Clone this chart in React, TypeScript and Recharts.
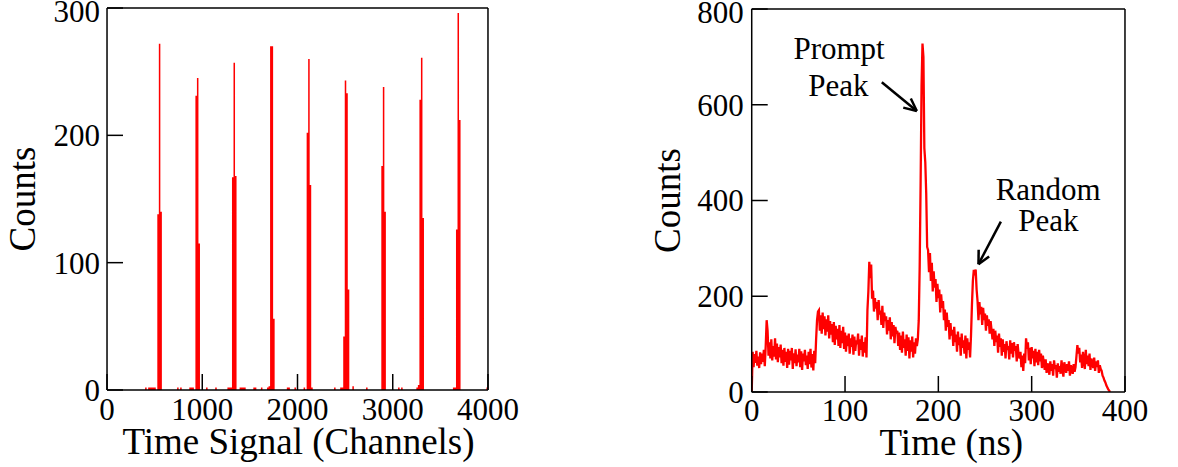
import React from 'react';
import { ComposedChart, Area, Line, XAxis, YAxis, Label, ReferenceLine, ReferenceDot } from 'recharts';

const FONT = '"Liberation Serif", "Times New Roman", Times, serif';
const RED = '#ff0000';
const INK = '#000000';

// ---------- Left panel: Time Signal (Channels) histogram ----------
const channelBinWidth = 16;
const channelMax = 4000;
const channelBinStart = [
  400, 432, 448, 464, 480, 496, 528, 544, 560,
  736, 768, 864, 880, 896, 928, 944, 960,
  1040, 1136, 1264, 1280, 1296, 1312, 1328, 1344,
  1392, 1408, 1424, 1440, 1536, 1552, 1616, 1680, 1696, 1712, 1728, 1744,
  1888, 1904, 1968, 2064, 2096, 2112, 2128, 2144,
  2384, 2448, 2464, 2480, 2496, 2512, 2528, 2576, 2720,
  2880, 2896, 2912, 3056, 3088, 3248, 3264, 3280, 3296, 3312,
  3632, 3648, 3664, 3680, 3696, 3984,
];
const channelBinCount = [
  2, 2, 2, 2, 2, 2, 138, 272, 140,
  2, 2, 2, 2, 2, 231, 245, 115,
  2, 2, 2, 2, 2, 167, 257, 168,
  2, 2, 2, 2, 2, 2, 2, 2, 3, 270, 270, 56,
  2, 2, 2, 2, 202, 260, 161, 2,
  2, 2, 2, 42, 243, 233, 79, 3, 2,
  176, 238, 140, 2, 2, 2, 4, 228, 261, 135,
  2, 2, 126, 296, 212, 2,
];
const leftXMajor = [0, 1000, 2000, 3000, 4000];
const leftXMinor = [200, 400, 600, 800, 1200, 1400, 1600, 1800, 2200, 2400, 2600, 2800, 3200, 3400, 3600, 3800];
const leftYMajor = [0, 100, 200, 300];
const leftYMinor = [20, 40, 60, 80, 120, 140, 160, 180, 220, 240, 260, 280];

// ---------- Right panel: Time (ns) spectrum, one value per 1 ns bin starting at 0 ns ----------
const spectrumCounts = [
  0, 84, 52, 79, 61, 86, 55, 74, 50, 83,
  58, 80, 63, 88, 54, 96, 150, 128, 76, 104,
  70, 110, 66, 96, 74, 112, 68, 101, 62, 94,
  72, 99, 60, 88, 55, 92, 63, 84, 50, 90,
  57, 86, 66, 92, 48, 81, 60, 89, 54, 78,
  62, 90, 52, 85, 46, 80, 64, 88, 56, 76,
  48, 84, 58, 90, 51, 79, 45, 86, 60, 110,
  150, 168, 171, 128, 160, 122, 166, 131, 158, 118,
  152, 126, 160, 112, 148, 120, 142, 104, 146, 98,
  138, 110, 132, 96, 140, 92, 128, 102, 136, 90,
  124, 84, 118, 96, 122, 80, 112, 94, 120, 78,
  116, 86, 108, 100, 122, 76, 110, 88, 118, 74,
  104, 82, 114, 72, 171, 210, 272, 238, 266, 195,
  212, 168, 196, 174, 188, 150, 192, 162, 170, 140,
  180, 134, 166, 148, 158, 120, 150, 128, 156, 110,
  146, 116, 140, 102, 136, 122, 128, 96, 124, 88,
  118, 82, 126, 92, 110, 76, 120, 86, 114, 70,
  108, 84, 116, 72, 104, 80, 112, 96, 110, 150,
  262, 437, 640, 728, 700, 509, 480, 415, 303, 296,
  250, 290, 232, 270, 210, 252, 218, 236, 188, 226,
  196, 214, 166, 204, 176, 190, 150, 172, 128, 166,
  136, 150, 110, 144, 118, 130, 96, 136, 104, 120,
  84, 126, 98, 114, 76, 122, 92, 108, 80, 118,
  70, 112, 88, 104, 72, 118, 182, 232, 255, 244,
  256, 214, 190, 150, 188, 162, 178, 140, 176, 150,
  164, 128, 160, 138, 152, 122, 148, 130, 110, 132,
  96, 128, 104, 118, 82, 122, 94, 112, 76, 110,
  84, 100, 70, 106, 88, 96, 68, 108, 80, 102,
  72, 104, 86, 96, 64, 100, 78, 70, 84, 52,
  76, 44, 80, 60, 112, 90, 104, 66, 92, 58,
  94, 70, 86, 54, 90, 62, 84, 56, 88, 64,
  80, 50, 76, 62, 46, 68, 40, 60, 52, 36,
  64, 44, 58, 34, 66, 48, 56, 30, 60, 42,
  54, 38, 66, 46, 32, 62, 50, 40, 58, 44,
  64, 34, 56, 48, 38, 58, 42, 52, 75, 98,
  80, 92, 62, 78, 50, 84, 66, 48, 88, 58,
  76, 54, 80, 46, 70, 60, 50, 72, 44, 64,
  52, 66, 40, 56, 48, 44, 34, 30, 24, 20,
  14, 10, 6, 3, 0,
];
const spectrumBinNs = 1;
const rightXMajor = [0, 100, 200, 300, 400];
const rightXMinor = [20, 40, 60, 80, 120, 140, 160, 180, 220, 240, 260, 280, 320, 340, 360, 380];
const rightYMajor = [0, 200, 400, 600, 800];
const rightYMinor = [50, 100, 150, 250, 300, 350, 450, 500, 550, 650, 700, 750];

// Annotations (data coordinates)
const promptArrow = { tail: { x: 139.4, y: 647 }, tip: { x: 176.9, y: 587 }, wingA: { x: 170.5, y: 613 }, wingB: { x: 162.4, y: 594 } };
const randomArrow = { tail: { x: 267, y: 356 }, tip: { x: 243, y: 267 }, wingA: { x: 254.4, y: 283 }, wingB: { x: 243.2, y: 297 } };
const annotationTexts = [
  { text: 'Prompt', x: 93.6, y: 719 },
  { text: 'Peak', x: 93.0, y: 642 },
  { text: 'Random', x: 317.7, y: 425 },
  { text: 'Peak', x: 318.0, y: 359 },
];

// Build histogram table for step area
const channelTable: { ch: number; count: number }[] = [];
for (let b = 0; b < channelMax; b += channelBinWidth) {
  const idx = channelBinStart.indexOf(b);
  channelTable.push({ ch: b, count: idx >= 0 ? channelBinCount[idx] : 0 });
}
channelTable.push({ ch: channelMax, count: 0 });

const timeTable = spectrumCounts.map((c, i) => ({ t: i * spectrumBinNs, c }));

const TICK_FONT = 31;
const TITLE_FONT = 37;
const THIN = 0.01;
const lineStyle = { stroke: INK, strokeWidth: 1.5 };

const makeYTick = (topValue: number) => (props: any) => {
  const { x, y, payload } = props;
  const shift = payload.value === topValue ? 3.5 : 0;
  return (
    <text x={x} y={y + shift} dy={TICK_FONT * 0.35} textAnchor="end" fontFamily={FONT} fontSize={TICK_FONT} fill={INK}>
      {payload.value}
    </text>
  );
};

const makeXTitle = (text: string, dx: number, baseline: number) => (props: any) => {
  const vb = props.viewBox;
  return (
    <text x={vb.x + vb.width / 2 + dx} y={vb.y + baseline} textAnchor="middle" fontFamily={FONT} fontSize={TITLE_FONT} fill={INK}>
      {text}
    </text>
  );
};

const makeYTitle = (text: string, off: number) => (props: any) => {
  const vb = props.viewBox;
  const cx = vb.x - off;
  const cy = vb.y + vb.height / 2;
  return (
    <text x={cx} y={cy} transform={`rotate(-90, ${cx}, ${cy})`} textAnchor="middle" fontFamily={FONT} fontSize={TITLE_FONT} fill={INK}>
      {text}
    </text>
  );
};

export default function App() {
  const xTickStyle = { fontSize: TICK_FONT, fontFamily: FONT, fill: INK };
  return (
    <div style={{ position: 'absolute', left: 0, top: 0, width: 1178, height: 467, background: '#ffffff' }}>
      {/* Left chart */}
      <div style={{ position: 'absolute', left: 0, top: 0 }}>
        <ComposedChart width={520} height={467} data={channelTable} margin={{ top: 8, right: 32, bottom: 77, left: 107 }} style={{ overflow: 'visible' }}>
          <XAxis xAxisId="b" dataKey="ch" type="number" domain={[0, 4000]} allowDataOverflow ticks={leftXMajor} interval={0}
            orientation="bottom" height={THIN} tickSize={-16} tickMargin={24} axisLine={lineStyle} tickLine={lineStyle} tick={xTickStyle}>
            <Label content={makeXTitle('Time Signal (Channels)', 1, 64)} />
          </XAxis>
          <XAxis xAxisId="bm" type="number" domain={[0, 4000]} allowDataOverflow ticks={leftXMinor} interval={0}
            orientation="bottom" height={THIN} tickSize={-8} axisLine={false} tickLine={lineStyle} tick={false} />
          <XAxis xAxisId="t" type="number" domain={[0, 4000]} allowDataOverflow ticks={leftXMajor} interval={0}
            orientation="top" height={THIN} tickSize={-16} axisLine={lineStyle} tickLine={lineStyle} tick={false} />
          <XAxis xAxisId="tm" type="number" domain={[0, 4000]} allowDataOverflow ticks={leftXMinor} interval={0}
            orientation="top" height={THIN} tickSize={-8} axisLine={false} tickLine={lineStyle} tick={false} />
          <YAxis yAxisId="l" type="number" domain={[0, 300]} allowDataOverflow ticks={leftYMajor} interval={0}
            orientation="left" width={THIN} tickSize={-16} tickMargin={23} axisLine={lineStyle} tickLine={lineStyle} tick={makeYTick(300)}>
            <Label content={makeYTitle('Counts', 72)} />
          </YAxis>
          <YAxis yAxisId="lm" type="number" domain={[0, 300]} allowDataOverflow ticks={leftYMinor} interval={0}
            orientation="left" width={THIN} tickSize={-8} axisLine={false} tickLine={lineStyle} tick={false} />
          <YAxis yAxisId="r" type="number" domain={[0, 300]} allowDataOverflow ticks={leftYMajor} interval={0}
            orientation="right" width={THIN} tickSize={-16} axisLine={lineStyle} tickLine={lineStyle} tick={false} />
          <YAxis yAxisId="rm" type="number" domain={[0, 300]} allowDataOverflow ticks={leftYMinor} interval={0}
            orientation="right" width={THIN} tickSize={-8} axisLine={false} tickLine={lineStyle} tick={false} />
          <Area xAxisId="b" yAxisId="l" dataKey="count" type="stepAfter" fill={RED} fillOpacity={1} stroke="none"
            isAnimationActive={false} dot={false} activeDot={false} />
        </ComposedChart>
      </div>

      {/* Right chart */}
      <div style={{ position: 'absolute', left: 600, top: 0 }}>
        <ComposedChart width={578} height={467} data={timeTable} margin={{ top: 9, right: 53, bottom: 75, left: 151.7 }} style={{ overflow: 'visible' }}>
          <XAxis xAxisId="b" dataKey="t" type="number" domain={[0, 400]} allowDataOverflow ticks={rightXMajor} interval={0}
            orientation="bottom" height={THIN} tickSize={-16} tickMargin={23} axisLine={lineStyle} tickLine={lineStyle} tick={xTickStyle}>
            <Label content={makeXTitle('Time (ns)', 13, 63)} />
          </XAxis>
          <XAxis xAxisId="bm" type="number" domain={[0, 400]} allowDataOverflow ticks={rightXMinor} interval={0}
            orientation="bottom" height={THIN} tickSize={-8} axisLine={false} tickLine={lineStyle} tick={false} />
          <XAxis xAxisId="t" type="number" domain={[0, 400]} allowDataOverflow ticks={rightXMajor} interval={0}
            orientation="top" height={THIN} tickSize={-16} axisLine={lineStyle} tickLine={lineStyle} tick={false} />
          <XAxis xAxisId="tm" type="number" domain={[0, 400]} allowDataOverflow ticks={rightXMinor} interval={0}
            orientation="top" height={THIN} tickSize={-8} axisLine={false} tickLine={lineStyle} tick={false} />
          <YAxis yAxisId="l" type="number" domain={[0, 800]} allowDataOverflow ticks={rightYMajor} interval={0}
            orientation="left" width={THIN} tickSize={-16} tickMargin={24} axisLine={lineStyle} tickLine={lineStyle} tick={makeYTick(800)}>
            <Label content={makeYTitle('Counts', 72)} />
          </YAxis>
          <YAxis yAxisId="lm" type="number" domain={[0, 800]} allowDataOverflow ticks={rightYMinor} interval={0}
            orientation="left" width={THIN} tickSize={-8} axisLine={false} tickLine={lineStyle} tick={false} />
          <YAxis yAxisId="r" type="number" domain={[0, 800]} allowDataOverflow ticks={rightYMajor} interval={0}
            orientation="right" width={THIN} tickSize={-16} axisLine={lineStyle} tickLine={lineStyle} tick={false} />
          <YAxis yAxisId="rm" type="number" domain={[0, 800]} allowDataOverflow ticks={rightYMinor} interval={0}
            orientation="right" width={THIN} tickSize={-8} axisLine={false} tickLine={lineStyle} tick={false} />
          <Line xAxisId="b" yAxisId="l" dataKey="c" type="linear" stroke={RED} strokeWidth={2.3} dot={false}
            activeDot={false} isAnimationActive={false} />
          {[promptArrow, randomArrow].map((a, i) => (
            <React.Fragment key={i}>
              <ReferenceLine xAxisId="b" yAxisId="l" segment={[a.tail, a.tip]} stroke={INK} strokeWidth={2.5} ifOverflow="visible" />
              <ReferenceLine xAxisId="b" yAxisId="l" segment={[a.wingA, a.tip]} stroke={INK} strokeWidth={2.5} ifOverflow="visible" />
              <ReferenceLine xAxisId="b" yAxisId="l" segment={[a.wingB, a.tip]} stroke={INK} strokeWidth={2.5} ifOverflow="visible" />
            </React.Fragment>
          ))}
          {annotationTexts.map((a, i) => (
            <ReferenceDot key={'t' + i} xAxisId="b" yAxisId="l" x={a.x} y={a.y} r={0} fill="none" stroke="none"
              label={{ value: a.text, position: 'center', fontSize: 31, fontFamily: FONT, fill: INK }} />
          ))}
        </ComposedChart>
      </div>
    </div>
  );
}
